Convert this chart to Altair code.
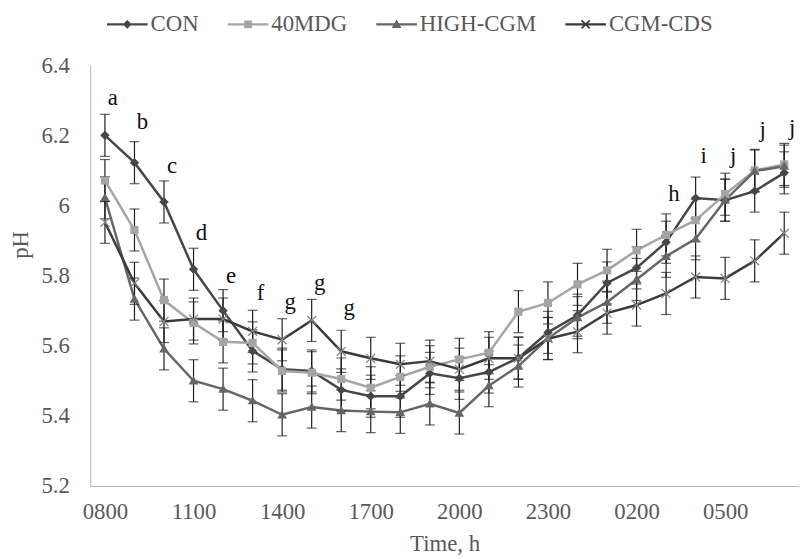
import altair as alt
import pandas as pd

# ---------------- data ----------------
times = ["0800", "0900", "1000", "1100", "1200", "1300", "1400", "1500",
         "1600", "1700", "1800", "1900", "2000", "2100", "2200", "2300",
         "0000", "0100", "0200", "0300", "0400", "0500", "0600", "0700"]
tick_labels = ["0800", "1100", "1400", "1700", "2000", "2300", "0200", "0500"]
y_ticks = [5.2, 5.4, 5.6, 5.8, 6.0, 6.2, 6.4]

series_names = ["CON", "40MDG", "HIGH-CGM", "CGM-CDS"]

con = [6.200, 6.122, 6.010, 5.818, 5.700, 5.585, 5.533, 5.528, 5.474, 5.456,
       5.456, 5.521, 5.507, 5.525, 5.565, 5.638, 5.687, 5.779, 5.822, 5.895,
       6.021, 6.015, 6.041, 6.093]
mdg = [6.071, 5.930, 5.730, 5.665, 5.611, 5.608, 5.528, 5.523, 5.505, 5.480,
       5.511, 5.540, 5.561, 5.580, 5.697, 5.722, 5.775, 5.815, 5.872, 5.916,
       5.958, 6.032, 6.100, 6.117]
high = [6.022, 5.733, 5.591, 5.500, 5.476, 5.443, 5.403, 5.425, 5.415, 5.412,
        5.410, 5.434, 5.408, 5.486, 5.542, 5.621, 5.680, 5.724, 5.789, 5.855,
        5.905, 6.015, 6.098, 6.112]
cds = [5.952, 5.778, 5.669, 5.676, 5.676, 5.641, 5.617, 5.672, 5.584, 5.564,
       5.547, 5.556, 5.533, 5.564, 5.564, 5.620, 5.640, 5.693, 5.716, 5.749,
       5.796, 5.792, 5.842, 5.921]

con_se = [0.06, 0.06, 0.06, 0.06, 0.06, 0.06, 0.06, 0.06, 0.06, 0.06, 0.06, 0.06,
          0.06, 0.06, 0.06, 0.06, 0.06, 0.06, 0.06, 0.06, 0.06, 0.06, 0.06, 0.06]
mdg_se = [0.06, 0.06, 0.06, 0.06, 0.06, 0.06, 0.06, 0.06, 0.06, 0.06, 0.06, 0.06,
          0.06, 0.06, 0.06, 0.06, 0.06, 0.06, 0.06, 0.06, 0.06, 0.06, 0.06, 0.06]
high_se = [0.06, 0.06, 0.06, 0.06, 0.06, 0.06, 0.06, 0.06, 0.06, 0.06, 0.06, 0.06,
           0.06, 0.06, 0.06, 0.06, 0.06, 0.06, 0.06, 0.06, 0.06, 0.06, 0.06, 0.06]
cds_se = [0.06, 0.06, 0.06, 0.06, 0.06, 0.06, 0.06, 0.06, 0.06, 0.06, 0.06, 0.06,
          0.06, 0.06, 0.06, 0.06, 0.06, 0.06, 0.06, 0.06, 0.06, 0.06, 0.06, 0.06]

letter_times = ["0800", "0900", "1000", "1100", "1200", "1300", "1400", "1500",
                "1600", "0300", "0400", "0500", "0600", "0700"]
letters = ["a", "b", "c", "d", "e", "f", "g", "g", "g", "h", "i", "j", "j", "j"]
letter_y = [6.305, 6.237, 6.112, 5.921, 5.800, 5.751, 5.724, 5.778, 5.707,
            6.032, 6.140, 6.140, 6.216, 6.220]

# ---------------- styling ----------------
line_colors = ["#474747", "#a5a5a5", "#666666", "#3b3b3b"]
marker_paths = {
    "CON": "M0,-1L1,0L0,1L-1,0Z",
    "40MDG": "M-1,-1H1V1H-1Z",
    "HIGH-CGM": "M0,-1L1,0.75L-1,0.75Z",
    "CGM-CDS": "M-1,-1L1,1M-1,1L1,-1",
}
marker_sizes = {"CON": 90, "40MDG": 68, "HIGH-CGM": 95, "CGM-CDS": 81}

# legend symbols: line stub + marker, all drawn as filled (clockwise) shapes
stub = "M-1,-0.061H1V0.061H-1Z"
legend_paths = [
    stub + "M0,-0.22L0.22,0L0,0.22L-0.22,0Z",
    stub + "M-0.19,-0.19H0.19V0.19H-0.19Z",
    stub + "M0,-0.24L0.24,0.18L-0.24,0.18Z",
    stub + "M-0.17,-0.23L0.23,0.17L0.17,0.23L-0.23,-0.17Z"
         + "M-0.23,0.17L0.17,-0.23L0.23,-0.17L-0.17,0.23Z",
]

FONT = "Liberation Serif"
FS = 23

# ---------------- tables ----------------
rows = []
for name, vals, ses in zip(series_names, [con, mdg, high, cds],
                           [con_se, mdg_se, high_se, cds_se]):
    for t, v, s in zip(times, vals, ses):
        rows.append({"time": t, "series": name, "value": v,
                     "lo": v - s, "hi": v + s})
df = pd.DataFrame(rows)
letters_df = pd.DataFrame({"time": letter_times, "letter": letters, "ly": letter_y})
legend_df = pd.DataFrame({"series": series_names, "time": times[0], "value": con[0]})

x_enc = alt.X("time:N",
              scale=alt.Scale(type="point", domain=times, padding=0.5),
              axis=alt.Axis(values=tick_labels, labelAngle=0, ticks=False, tickSize=0,
                            grid=False, domainColor="#b3b3b3", domainWidth=1,
                            labelFont=FONT, labelFontSize=FS, labelColor="#595959",
                            labelPadding=15, title="Time, h", titleFont=FONT,
                            titleFontSize=FS, titleFontWeight="normal",
                            titleColor="#595959", titleBaseline="middle", titleY=58))
y_scale = alt.Scale(domain=[5.2, 6.4], nice=False, zero=False)
y_axis = alt.Axis(values=y_ticks, format="~g", ticks=False, tickSize=0, grid=False,
                  domainColor="#b3b3b3", domainWidth=1, labelFont=FONT,
                  labelFontSize=FS, labelColor="#595959", labelPadding=21,
                  title="pH", titleFont=FONT, titleFontSize=FS,
                  titleFontWeight="normal", titleColor="#595959", titleAngle=270,
                  titleAlign="center", titleBaseline="middle", titleX=-70, titleY=181)
color_scale = alt.Scale(domain=series_names, range=line_colors)

base = alt.Chart(df)

lines = base.mark_line(strokeWidth=2.5).encode(
    x=x_enc,
    y=alt.Y("value:Q", scale=y_scale, axis=y_axis),
    color=alt.Color("series:N", scale=color_scale, legend=None),
)

err_rules = base.mark_rule(color="#1e1e1e", strokeWidth=1.2).encode(
    x=alt.X("time:N"), y=alt.Y("lo:Q"), y2="hi:Q")
err_lo = base.mark_tick(color="#1e1e1e", thickness=1.2, size=10).encode(
    x=alt.X("time:N"), y=alt.Y("lo:Q"))
err_hi = base.mark_tick(color="#1e1e1e", thickness=1.2, size=10).encode(
    x=alt.X("time:N"), y=alt.Y("hi:Q"))

point_layers = []
for name in series_names:
    if name == "CGM-CDS":
        m = alt.Chart(df).transform_filter(alt.datum.series == name).mark_point(
            shape=marker_paths[name], size=marker_sizes[name], filled=False,
            stroke="#858585", strokeWidth=1.3, opacity=1)
        point_layers.append(m.encode(x=alt.X("time:N"), y=alt.Y("value:Q")))
    else:
        m = alt.Chart(df).transform_filter(alt.datum.series == name).mark_point(
            shape=marker_paths[name], size=marker_sizes[name], filled=True, opacity=1)
        point_layers.append(m.encode(
            x=alt.X("time:N"), y=alt.Y("value:Q"),
            color=alt.Color("series:N", scale=color_scale, legend=None)))

texts = alt.Chart(letters_df).mark_text(
    font=FONT, fontSize=FS, color="#111111", align="center", baseline="middle", dx=8
).encode(x=alt.X("time:N"), y=alt.Y("ly:Q"), text="letter:N")

main = alt.layer(lines, err_rules, err_lo, err_hi, *point_layers, texts)

legend_props = dict(title=None, orient="none", legendX=17, legendY=-62,
                    direction="horizontal", symbolSize=1681, symbolStrokeWidth=0,
                    symbolOpacity=1, labelFont=FONT, labelFontSize=FS,
                    labelColor="#595959", labelOffset=3, columnPadding=29,
                    padding=0)
legend_layer = alt.Chart(legend_df).mark_point(filled=True, opacity=0, size=1681).encode(
    x=alt.X("time:N"),
    y=alt.Y("value:Q"),
    color=alt.Color("series:N", scale=alt.Scale(domain=series_names, range=line_colors),
                    legend=alt.Legend(**legend_props)),
    shape=alt.Shape("series:N", scale=alt.Scale(domain=series_names, range=legend_paths),
                    legend=alt.Legend(**legend_props)),
)

chart = alt.layer(main, legend_layer).resolve_scale(
    color="independent", shape="independent"
).properties(
    width=716, height=425,
    padding={"left": 83, "top": 55, "right": 0, "bottom": 71},
    autosize=alt.AutoSizeParams(type="none"),
    background="white",
).configure_view(stroke=None)

chart.save("out.html", embed_options={"renderer": "svg", "actions": False})
